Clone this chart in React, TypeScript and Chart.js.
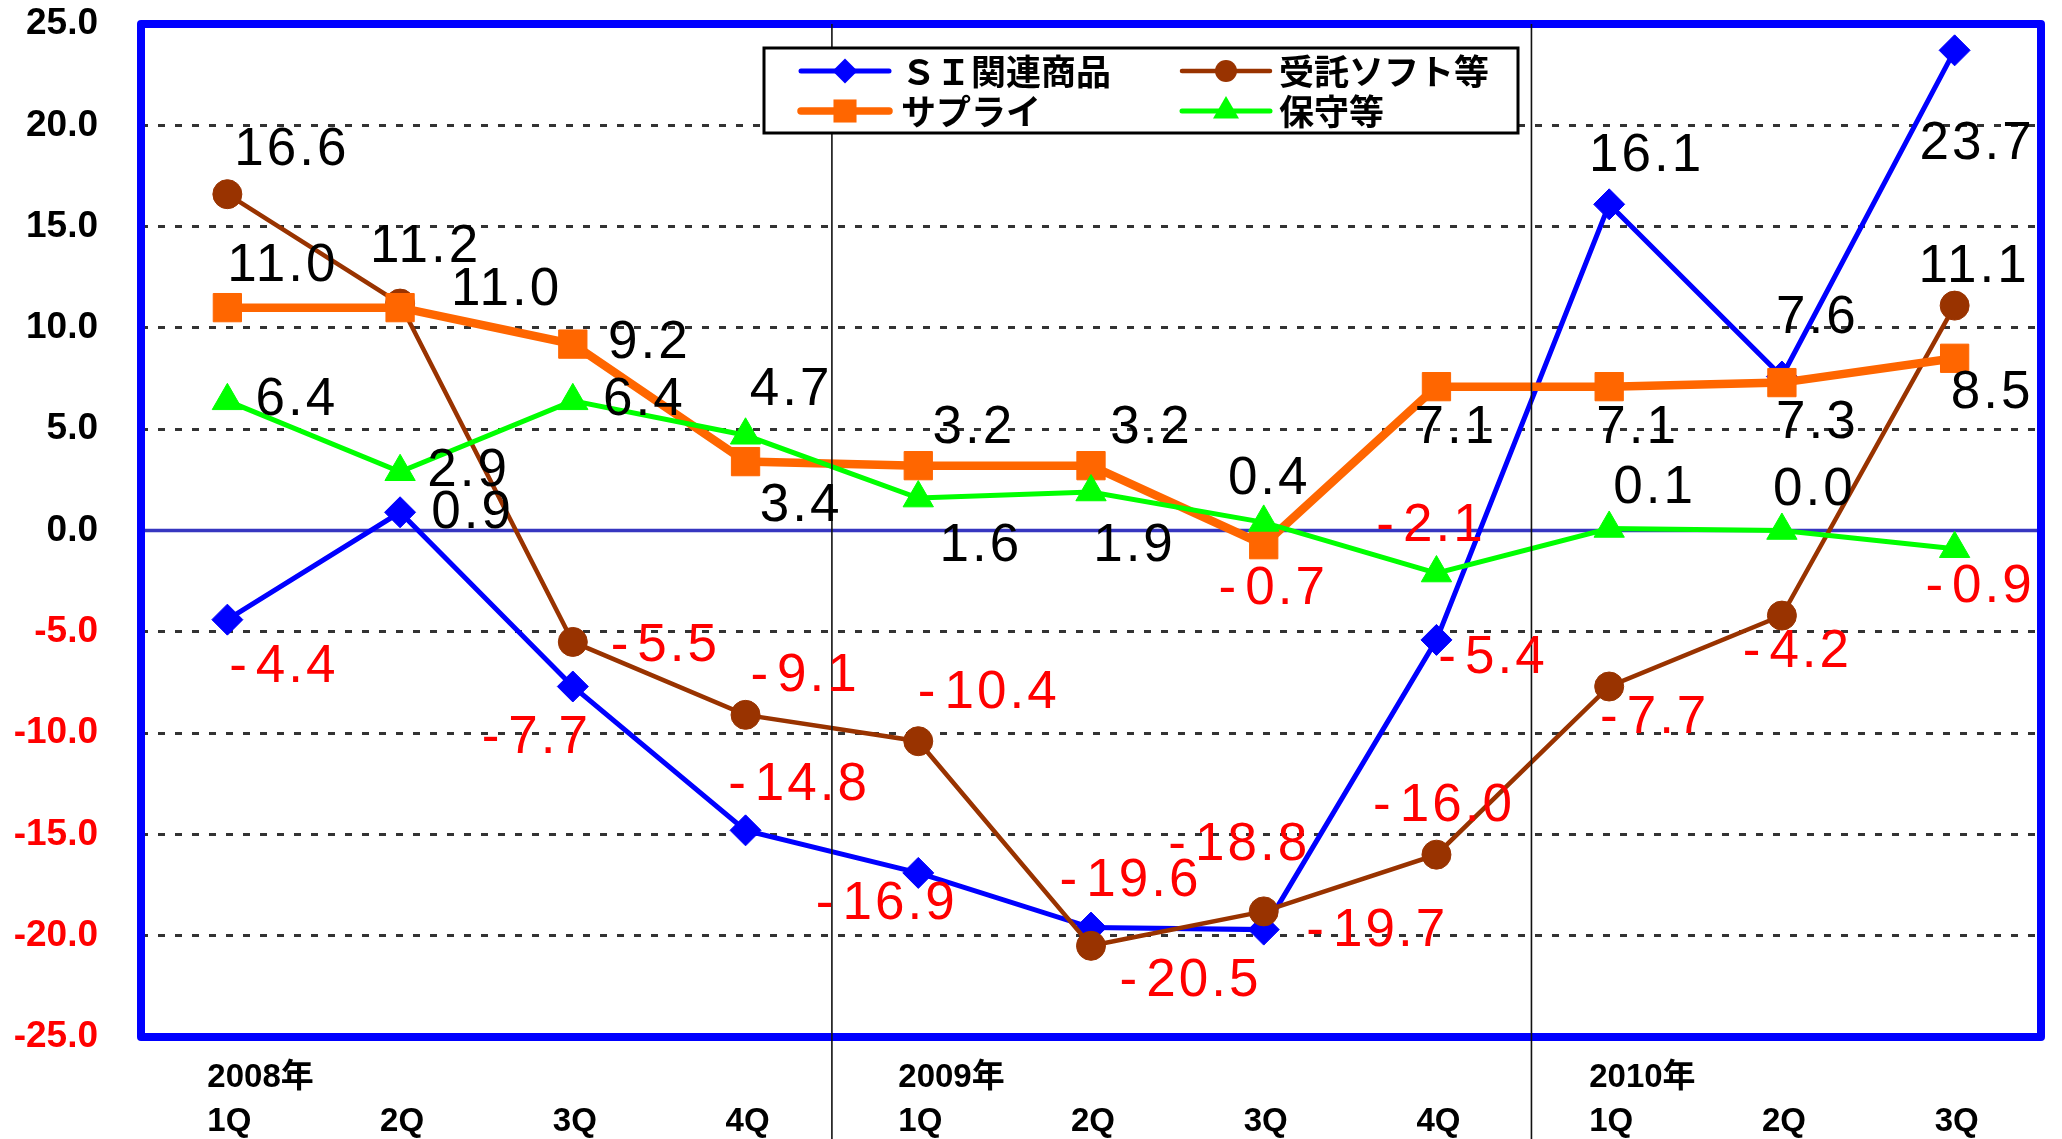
import { useEffect, useRef } from 'react';
import { Chart, registerables } from 'chart.js';

Chart.register(...registerables);

// ---------- data ----------
const yearLabels = ['2008年', '', '', '', '2009年', '', '', '', '2010年', '', ''];
const quarterLabels = ['1Q', '2Q', '3Q', '4Q', '1Q', '2Q', '3Q', '4Q', '1Q', '2Q', '3Q'];
const seriesNames = ['ＳＩ関連商品', '受託ソフト等', 'サプライ', '保守等'];
const siValues = [-4.4, 0.9, -7.7, -14.8, -16.9, -19.6, -19.7, -5.4, 16.1, 7.6, 23.7];
const softValues = [16.6, 11.2, -5.5, -9.1, -10.4, -20.5, -18.8, -16.0, -7.7, -4.2, 11.1];
const supplyValues = [11.0, 11.0, 9.2, 3.4, 3.2, 3.2, -0.7, 7.1, 7.1, 7.3, 8.5];
const maintValues = [6.4, 2.9, 6.4, 4.7, 1.6, 1.9, 0.4, -2.1, 0.1, 0.0, -0.9];
const yMin = -25;
const yMax = 25;
const yStep = 5;
// category positions (in index units) of the year separators
const yearSeparators = [3.5, 7.55];

// ---------- layout / style ----------
// label centre offsets (px) relative to each point, per series
const siLabelOffsets = [[55, 48], [71, 1], [-38, 52], [52, -45], [-33, 31], [38, -46], [112, 2], [55, 18], [36, -48], [34, -58], [21, 94]];
const softLabelOffsets = [[63, -44], [24, -56], [91, 4], [58, -38], [69, -48], [98, 36], [-26, -66], [6, -48], [44, 32], [14, 37], [18, -38]];
const supplyLabelOffsets = [[54, -41], [105, -17], [75, -1], [54, 45], [54, -37], [59, -37], [8, 45], [18, 42], [27, 42], [34, 41], [36, 35]];
const maintLabelOffsets = [[68, 0], [67, 0], [70, 0], [44, -45], [61, 48], [42, 54], [4, -43], [-7, -47], [44, -40], [31, -40], [24, 39]];
const labelOffsets = [siLabelOffsets, softLabelOffsets, supplyLabelOffsets, maintLabelOffsets];

const LATIN = '"Liberation Sans", Arial, "Noto Sans CJK JP", sans-serif';
const CJK = '"Noto Sans CJK JP", "Noto Sans CJK SC", sans-serif';
const RED = '#FF0000';

const legendMarkerRadius = [12.5, 11, 16.3, 15];

function drawMarker(ctx: CanvasRenderingContext2D, shape: string, x: number, y: number, r: number, color: string) {
  ctx.save();
  ctx.fillStyle = color;
  ctx.beginPath();
  if (shape === 'rectRot') {
    ctx.moveTo(x, y - r);
    ctx.lineTo(x + r, y);
    ctx.lineTo(x, y + r);
    ctx.lineTo(x - r, y);
    ctx.closePath();
  } else if (shape === 'circle') {
    ctx.arc(x, y, r, 0, Math.PI * 2);
  } else if (shape === 'rect') {
    const s = Math.SQRT1_2 * r;
    ctx.rect(x - s, y - s, 2 * s, 2 * s);
  } else if (shape === 'triangle') {
    const w = r * Math.sin(Math.PI / 3);
    ctx.moveTo(x, y - r);
    ctx.lineTo(x + w, y + r / 2);
    ctx.lineTo(x - w, y + r / 2);
    ctx.closePath();
  }
  ctx.fill();
  ctx.restore();
}

function drawValueLabel(ctx: CanvasRenderingContext2D, text: string, cx: number, cy: number, color: string) {
  ctx.save();
  ctx.font = `53px ${LATIN}`;
  (ctx as any).letterSpacing = '3px';
  ctx.textBaseline = 'middle';
  ctx.textAlign = 'left';
  ctx.fillStyle = color;
  const gap = 6;
  if (text.startsWith('-')) {
    const rest = text.slice(1);
    const wm = ctx.measureText('-').width;
    const wr = ctx.measureText(rest).width - 3;
    const total = wm + gap + wr;
    const left = cx - total / 2;
    ctx.fillText('-', left, cy);
    ctx.fillText(rest, left + wm + gap, cy);
  } else {
    const w = ctx.measureText(text).width - 3;
    ctx.fillText(text, cx - w / 2, cy);
  }
  ctx.restore();
}

const decorPlugin = {
  id: 'decor',
  beforeDatasetsDraw(chart: any) {
    const { ctx, chartArea } = chart;
    const y = chart.scales.y.getPixelForValue(0);
    ctx.save();
    ctx.strokeStyle = '#3636c0';
    ctx.lineWidth = 3.5;
    ctx.beginPath();
    ctx.moveTo(chartArea.left, y);
    ctx.lineTo(chartArea.right, y);
    ctx.stroke();
    ctx.restore();
  },
  afterDatasetsDraw(chart: any) {
    const { ctx, chartArea } = chart;
    // plot frame
    ctx.save();
    ctx.strokeStyle = '#0000FF';
    ctx.lineWidth = 8;
    ctx.lineJoin = 'round';
    ctx.strokeRect(chartArea.left, chartArea.top, chartArea.right - chartArea.left, chartArea.bottom - chartArea.top);
    ctx.restore();
    // year separators
    ctx.save();
    ctx.strokeStyle = '#111111';
    ctx.lineWidth = 1.6;
    yearSeparators.forEach((v) => {
      const x = chart.scales.x.getPixelForValue(v);
      ctx.beginPath();
      ctx.moveTo(x, chartArea.top);
      ctx.lineTo(x, chart.height);
      ctx.stroke();
    });
    ctx.restore();
    // value labels
    chart.data.datasets.forEach((ds: any, di: number) => {
      const meta = chart.getDatasetMeta(di);
      meta.data.forEach((pt: any, i: number) => {
        const v = ds.data[i] as number;
        const [dx, dy] = labelOffsets[di][i];
        drawValueLabel(ctx, v.toFixed(1), pt.x + dx, pt.y + dy, v < 0 ? RED : '#000000');
      });
    });
  },
  afterDraw(chart: any) {
    const { ctx } = chart;
    const box = { left: 764, top: 48, right: 1518, bottom: 133 };
    ctx.save();
    ctx.fillStyle = '#FFFFFF';
    ctx.fillRect(box.left, box.top, box.right - box.left, box.bottom - box.top);
    ctx.strokeStyle = '#000000';
    ctx.lineWidth = 3;
    ctx.strokeRect(box.left, box.top, box.right - box.left, box.bottom - box.top);
    const sampleX = [801, 1182];
    const textX = [901, 1279];
    const rowY = [71, 111];
    chart.data.datasets.forEach((ds: any, di: number) => {
      const col = di % 2;
      const row = Math.floor(di / 2);
      const y = rowY[row];
      const x0 = sampleX[col];
      const x1 = x0 + 88;
      ctx.strokeStyle = ds.borderColor;
      ctx.lineWidth = Math.min(ds.borderWidth, 7.5);
      ctx.lineCap = 'round';
      ctx.beginPath();
      ctx.moveTo(x0, y);
      ctx.lineTo(x1, y);
      ctx.stroke();
      drawMarker(ctx, ds.pointStyle, (x0 + x1) / 2, y, legendMarkerRadius[di], ds.backgroundColor);
      ctx.fillStyle = '#000000';
      ctx.font = `bold 35px ${CJK}`;
      ctx.textBaseline = 'middle';
      ctx.textAlign = 'left';
      ctx.fillText(ds.label, textX[col], y + 1);
    });
    ctx.restore();
  },
};

export default function App() {
  const canvasRef = useRef<HTMLCanvasElement | null>(null);

  useEffect(() => {
    const canvas = canvasRef.current;
    if (!canvas) return;
    const chart = new Chart(canvas, {
      type: 'line',
      data: {
        labels: quarterLabels.map((q, i) => [yearLabels[i], q]),
        datasets: [
          {
            label: seriesNames[0], data: siValues, borderColor: '#0000FF', backgroundColor: '#0000FF',
            borderWidth: 5, pointStyle: 'rectRot', pointRadius: 15.5, pointBorderWidth: 1,
            pointBorderColor: '#0000FF', pointBackgroundColor: '#0000FF', tension: 0, order: 4,
          },
          {
            label: seriesNames[1], data: softValues, borderColor: '#993300', backgroundColor: '#993300',
            borderWidth: 4.5, pointStyle: 'circle', pointRadius: 14.5, pointBorderWidth: 1,
            pointBorderColor: '#993300', pointBackgroundColor: '#993300', tension: 0, order: 3,
          },
          {
            label: seriesNames[2], data: supplyValues, borderColor: '#FF6600', backgroundColor: '#FF6600',
            borderWidth: 8.5, pointStyle: 'rect', pointRadius: 20, pointBorderWidth: 1,
            pointBorderColor: '#FF6600', pointBackgroundColor: '#FF6600', tension: 0, order: 2,
          },
          {
            label: seriesNames[3], data: maintValues, borderColor: '#00FF00', backgroundColor: '#00FF00',
            borderWidth: 5, pointStyle: 'triangle', pointRadius: 17.5, pointBorderWidth: 1,
            pointBorderColor: '#00FF00', pointBackgroundColor: '#00FF00', tension: 0, order: 1,
          },
        ] as any,
      },
      options: {
        responsive: false,
        animation: false,
        events: [],
        layout: { padding: { top: 24, right: 5, left: 0, bottom: 0 } },
        plugins: { legend: { display: false }, tooltip: { enabled: false } },
        scales: {
          x: {
            type: 'category',
            offset: true,
            grid: { display: false, drawTicks: false },
            border: { display: false },
            ticks: {
              autoSkip: false,
              maxRotation: 0,
              minRotation: 0,
              align: 'start',
              labelOffset: -20,
              padding: 19,
              color: '#000000',
              font: { family: LATIN, size: 33, weight: 'bold', lineHeight: 1.33 },
            },
            afterFit: (s: any) => { s.height = 102; s.paddingLeft = 0; s.paddingRight = 0; },
          },
          y: {
            min: yMin,
            max: yMax,
            ticks: {
              stepSize: yStep,
              padding: 43,
              callback: (v: any) => Number(v).toFixed(1),
              color: (c: any) => (c.tick && c.tick.value < 0 ? RED : '#000000'),
              font: { family: LATIN, size: 37, weight: 'bold' },
            },
            grid: {
              drawTicks: false,
              lineWidth: 3,
              color: (c: any) => {
                const v = c.tick ? c.tick.value : 0;
                return v === 0 || v === yMin || v === yMax ? 'rgba(0,0,0,0)' : '#333333';
              },
            },
            border: { display: false, dash: [7, 10] },
            afterFit: (s: any) => { s.width = 141; s.paddingTop = 0; s.paddingBottom = 0; },
          },
        },
      } as any,
      plugins: [decorPlugin],
    });
    return () => chart.destroy();
  }, []);

  return (
    <div style={{ position: 'absolute', left: 0, top: 0, width: 2062, height: 1139, background: '#FFFFFF' }}>
      <canvas ref={canvasRef} width={2062} height={1139} style={{ display: 'block' }} />
    </div>
  );
}
